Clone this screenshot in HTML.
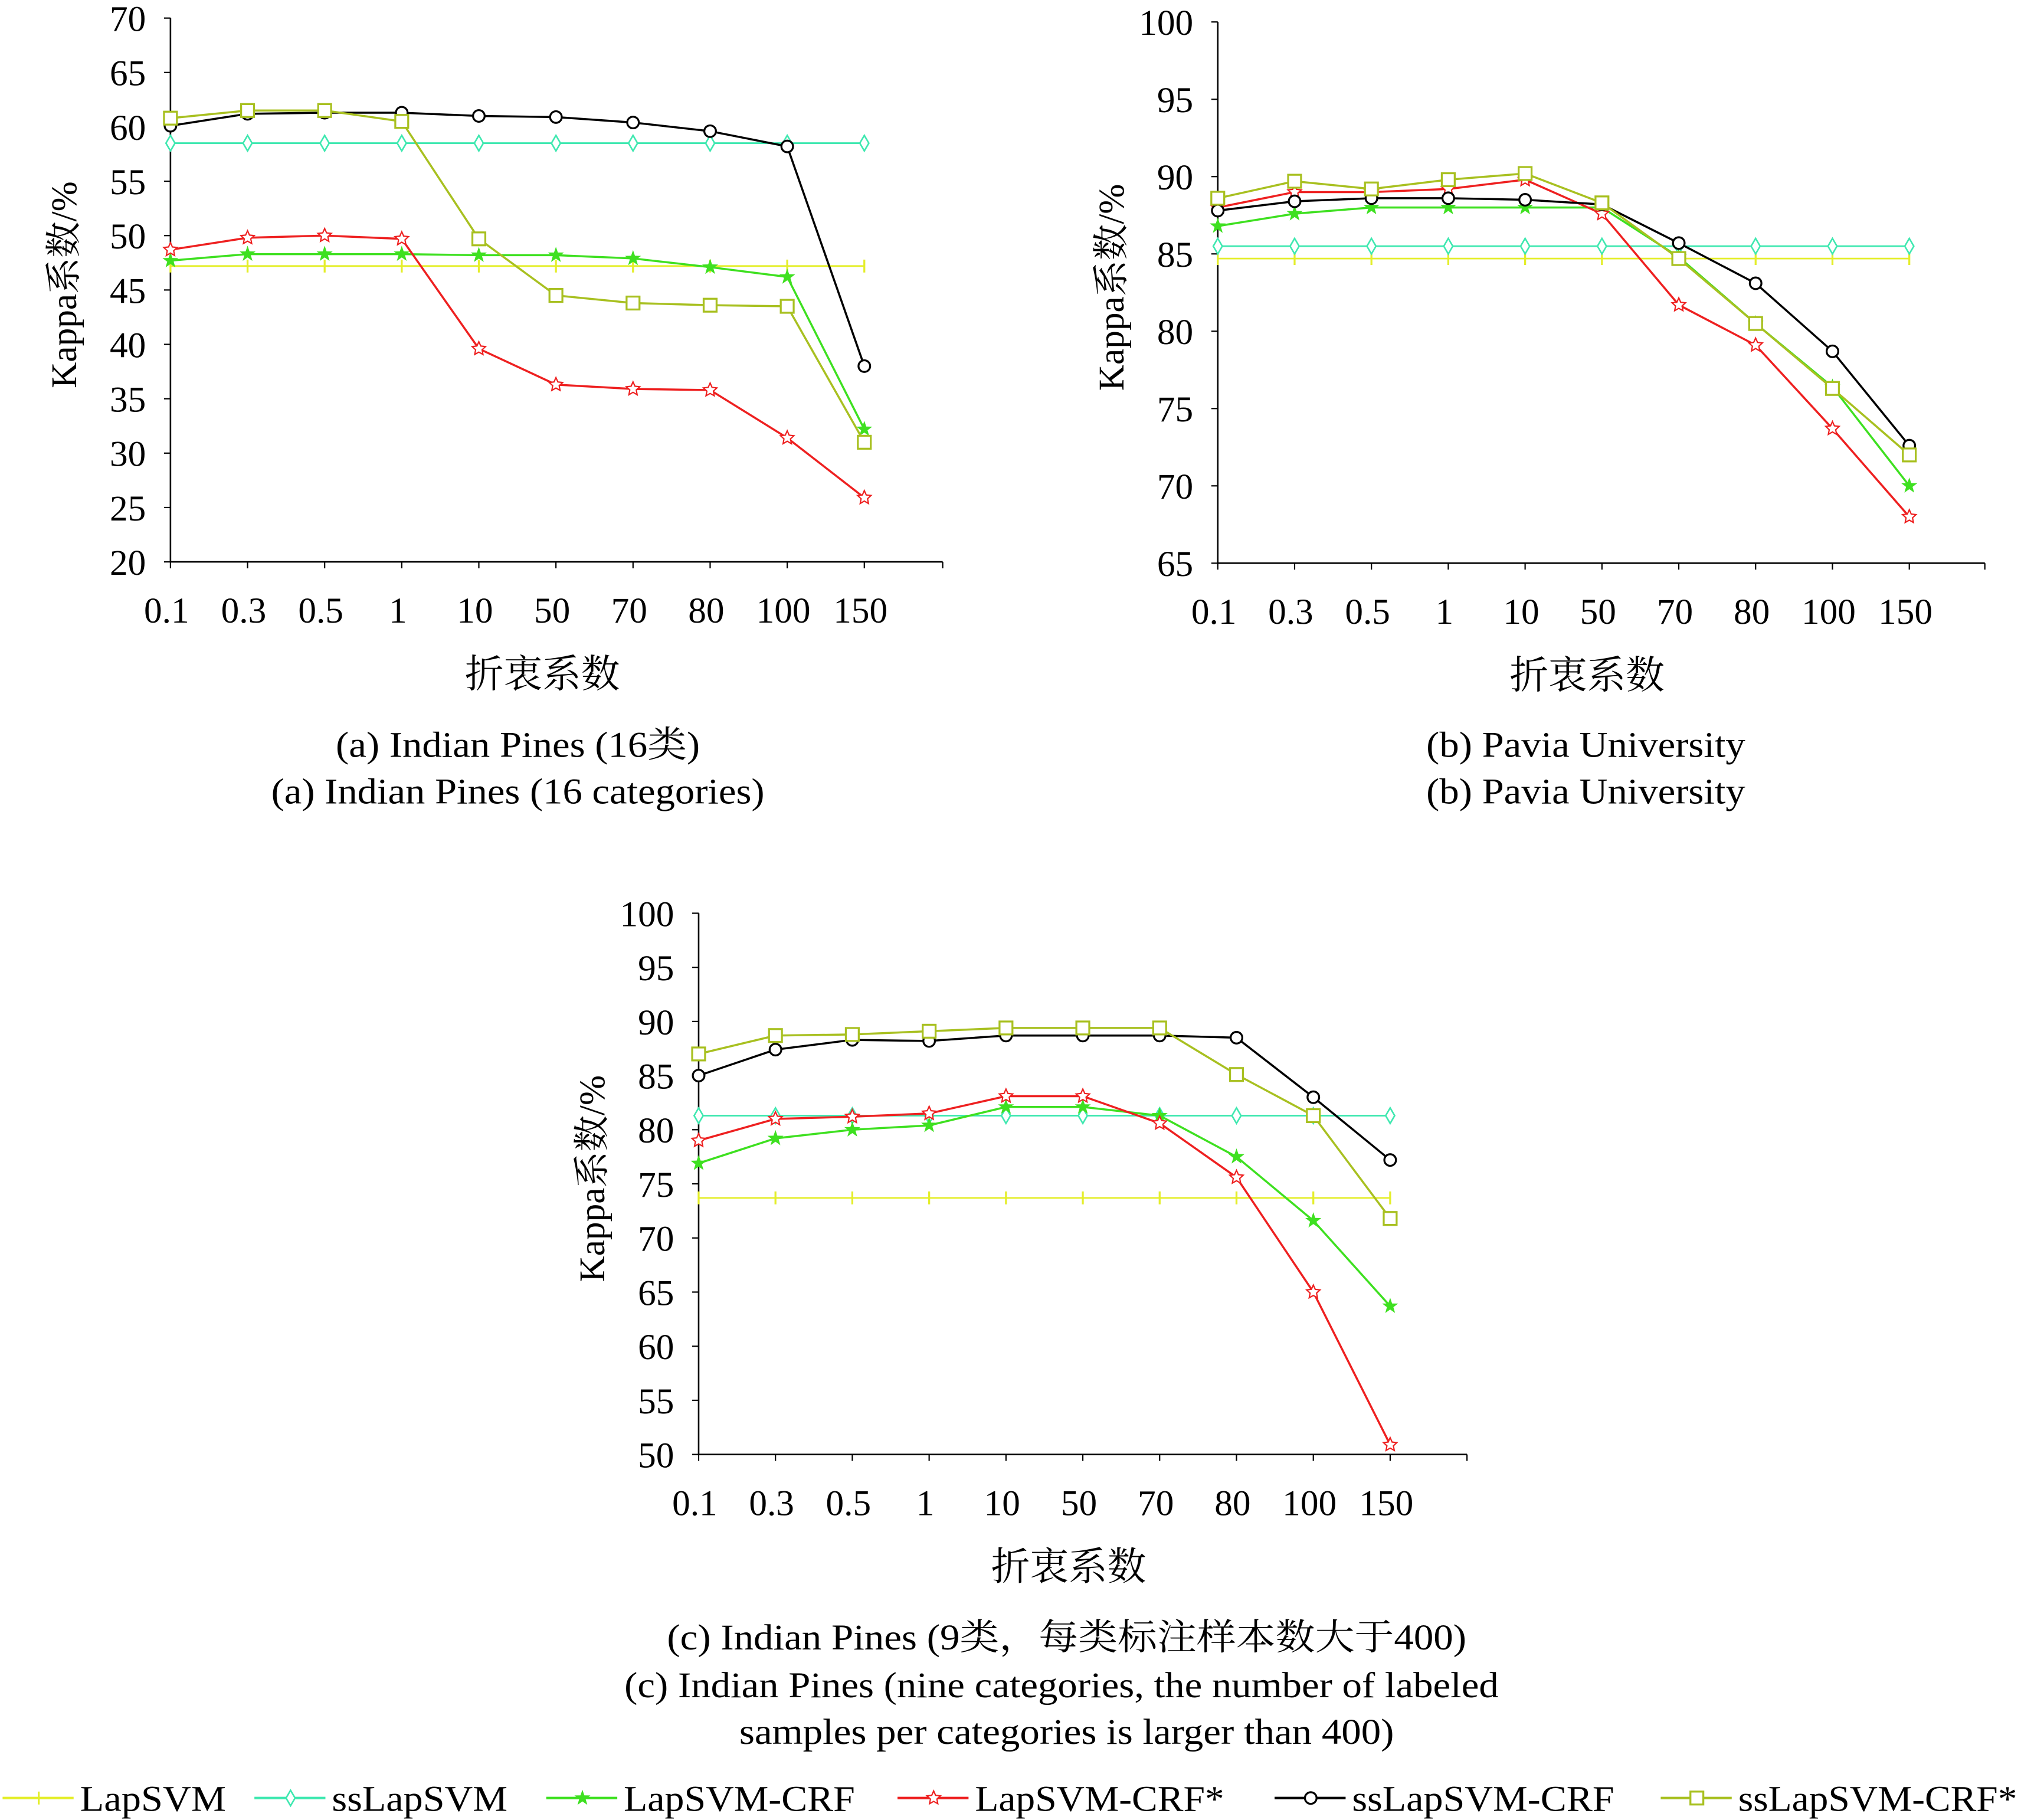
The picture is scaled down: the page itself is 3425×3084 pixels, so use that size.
<!DOCTYPE html>
<html><head><meta charset="utf-8"><style>
html,body{margin:0;padding:0;background:#fff;}
svg{display:block;}
text{font-family:"Liberation Serif","Noto Serif CJK SC",serif;fill:#000;}
</style></head><body>
<svg id="fig" width="3425" height="3084" viewBox="0 0 1565 1409" preserveAspectRatio="none"></svg>
<script>
const categories=["0.1","0.3","0.5","1","10","50","70","80","100","150"];
const seriesNames=["LapSVM","ssLapSVM","LapSVM-CRF","LapSVM-CRF*","ssLapSVM-CRF","ssLapSVM-CRF*"];
const a_lap=[47.2,47.2,47.2,47.2,47.2,47.2,47.2,47.2,47.2,47.2];
const a_ss=[58.5,58.5,58.5,58.5,58.5,58.5,58.5,58.5,58.5,58.5];
const a_crf=[47.7,48.3,48.3,48.3,48.2,48.2,47.9,47.1,46.2,32.2];
const a_crfs=[48.7,49.8,50.0,49.7,39.6,36.3,35.9,35.8,31.4,25.9];
const a_sscrf=[60.1,61.2,61.3,61.3,61.0,60.9,60.4,59.6,58.2,38.0];
const a_sscrfs=[60.8,61.5,61.5,60.5,49.7,44.5,43.8,43.6,43.5,31.0];
const b_lap=[84.7,84.7,84.7,84.7,84.7,84.7,84.7,84.7,84.7,84.7];
const b_ss=[85.5,85.5,85.5,85.5,85.5,85.5,85.5,85.5,85.5,85.5];
const b_crf=[86.8,87.6,88.0,88.0,88.0,88.0,84.8,80.5,76.4,70.0];
const b_crfs=[88.0,89.0,89.0,89.2,89.8,87.6,81.7,79.1,73.7,68.0];
const b_sscrf=[87.8,88.4,88.6,88.6,88.5,88.2,85.7,83.1,78.7,72.6];
const b_sscrfs=[88.6,89.7,89.2,89.8,90.2,88.3,84.7,80.5,76.3,72.0];
const c_lap=[73.7,73.7,73.7,73.7,73.7,73.7,73.7,73.7,73.7,73.7];
const c_ss=[81.3,81.3,81.3,81.3,81.3,81.3,81.3,81.3,81.3,81.3];
const c_crf=[76.9,79.2,80.0,80.4,82.1,82.1,81.3,77.5,71.6,63.7];
const c_crfs=[79.0,81.0,81.2,81.5,83.1,83.1,80.6,75.6,65.0,50.9];
const c_sscrf=[85.0,87.4,88.3,88.2,88.7,88.7,88.7,88.5,83.0,77.2];
const c_sscrfs=[87.0,88.7,88.8,89.1,89.4,89.4,89.4,85.1,81.3,71.8];
const a_ticks=[20,25,30,35,40,45,50,55,60,65,70];
const b_ticks=[65,70,75,80,85,90,95,100];
const c_ticks=[50,55,60,65,70,75,80,85,90,95,100];

const colors=["#e4ee2a","#3fe8b0","#3ee020","#ee2020","#000000","#a8c020"];
const NS="http://www.w3.org/2000/svg";
const svg=document.getElementById('fig');
function el(tag,attrs,parent){const e=document.createElementNS(NS,tag);for(const k in attrs)e.setAttribute(k,attrs[k]);(parent||svg).appendChild(e);return e;}
function txt(s,x,y,size,anchor,parent,extra){const t=el('text',Object.assign({x:x,y:y,'font-size':size,'text-anchor':anchor||'middle'},extra||{}),parent);t.textContent=s;return t;}
function fit(extraLen){return {textLength:extraLen,lengthAdjust:'spacingAndGlyphs'};}

function marker(i,x,y,g){
  const c=colors[i];
  if(i===0){el('path',{d:`M${x} ${y-5}L${x} ${y+5}`,stroke:c,'stroke-width':1.5},g);}
  else if(i===1){el('path',{d:`M${x} ${y-6}L${x+3.5} ${y}L${x} ${y+6}L${x-3.5} ${y}Z`,fill:'#fff',stroke:c,'stroke-width':1.2},g);}
  else if(i===2){let p='';for(let k=0;k<10;k++){const r=k%2?2.6:6.5,a=-Math.PI/2+k*Math.PI/5;p+=(k?'L':'M')+(x+r*Math.cos(a)).toFixed(1)+' '+(y+r*Math.sin(a)).toFixed(1);}el('path',{d:p+'Z',fill:c},g);}
  else if(i===3){let p='';for(let k=0;k<10;k++){const r=k%2?2.6:5.5,a=-Math.PI/2+k*Math.PI/5;p+=(k?'L':'M')+(x+r*Math.cos(a)).toFixed(1)+' '+(y+r*Math.sin(a)).toFixed(1);}el('path',{d:p+'Z',fill:'#fff',stroke:c,'stroke-width':1},g);}
  else if(i===4){el('circle',{cx:x,cy:y,r:4.5,fill:'#fff',stroke:c,'stroke-width':1.5},g);}
  else {el('rect',{x:x-5,y:y-5,width:10,height:10,fill:'#fff',stroke:c,'stroke-width':1.5},g);}
}

function chart(name,x0,xend,step,yb,yt,ticks,series,caps){
  const g=el('g',{},svg);
  
  
  const ymin=ticks[0],ymax=ticks[ticks.length-1];
  const Y=v=>yb-(v-ymin)/(ymax-ymin)*(yb-yt);
  const X=i=>x0+i*step;
  const axes=el('g',{},g);
  
  
  el('path',{d:`M${x0} ${yt}L${x0} ${yb}L${xend} ${yb}`,fill:'none',stroke:'#000','stroke-width':1.2},axes);
  ticks.forEach(t=>{el('path',{d:`M${x0-5} ${Y(t)}L${x0} ${Y(t)}`,stroke:'#000','stroke-width':1},axes);
    const l=txt(String(t),x0-19,Y(t)+10,28,'end',axes);
    
    });
  categories.forEach((c,i)=>{el('path',{d:`M${X(i)} ${yb}L${X(i)} ${yb+5}`,stroke:'#000','stroke-width':1},axes);
    const l=txt(c,X(i)-3,yb+47,28,'middle',axes);
    
    });
  el('path',{d:`M${xend} ${yb}L${xend} ${yb+5}`,stroke:'#000','stroke-width':1},axes);
  const yl=txt('Kappa系数/%',0,0,28,'middle',g,{transform:`translate(${x0-73},${(yb+yt)/2-4}) rotate(-90)`});
  
  
  const xl=txt('折衷系数',(x0+xend)/2-11,yb+97,30,'middle',g);
  
  
  series.forEach((s,i)=>{
    const sg=el('g',{},g);
    
    
    el('polyline',{points:s.map((v,k)=>X(k)+','+Y(v)).join(' '),fill:'none',stroke:colors[i],'stroke-width':(i===0||i===1)?1.3:1.6},sg);
    s.forEach((v,k)=>marker(i,X(k),Y(v),sg));
  });
  caps.forEach(c=>{const t=txt(c[0],c[1],c[2],28,'middle',g,fit(c[3]));
    
    });
}
chart('chart-a-indian-pines-16',132,730,59.7,435,14,a_ticks,[a_lap,a_ss,a_crf,a_crfs,a_sscrf,a_sscrfs],
  [['(a) Indian Pines (16类)',401,586,282],['(a) Indian Pines (16 categories)',401,622,382]]);
chart('chart-b-pavia-university',943,1537,59.5,436,17,b_ticks,[b_lap,b_ss,b_crf,b_crfs,b_sscrf,b_sscrfs],
  [['(b) Pavia University',1228,586,247],['(b) Pavia University',1228,622,247]]);
chart('chart-c-indian-pines-9',541,1136,59.5,1126,707,c_ticks,[c_lap,c_ss,c_crf,c_crfs,c_sscrf,c_sscrfs],
  [['(c) Indian Pines (9类，每类标注样本数大于400)',826,1277,619],['(c) Indian Pines (nine categories, the number of labeled',822,1314,677],['samples per categories is larger than 400)',826,1350,507]]);

const lg=el('g',{},svg);


const ltx=[62,257,483,755,1047,1346];
const ltw=[113,136,179,193,203,216];
seriesNames.forEach((n,i)=>{
  const e=el('g',{},lg);
  
  
  const x=ltx[i]-60,y=1392;
  el('path',{d:`M${x} ${y}L${x+55} ${y}`,stroke:colors[i],'stroke-width':2},e);
  marker(i,x+28,y,e);
  txt(n,ltx[i],y+10,28,'start',e,fit(ltw[i]));
});
</script>
</body></html>
